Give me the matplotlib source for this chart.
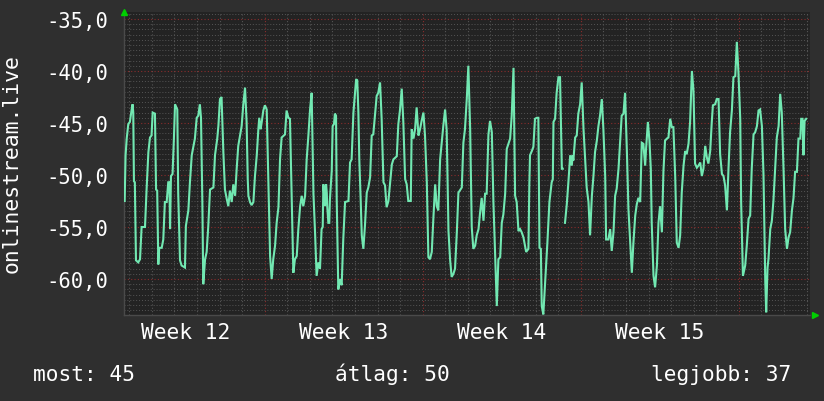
import numpy as np
import matplotlib
matplotlib.use("Agg")
import matplotlib.pyplot as plt

# ---- data (time in days from Monday of week 12, value) ----
tA = [0.80,0.84,0.89,0.96,1.03,1.11,1.15,1.18,1.21,1.25,1.30,1.40,1.48,1.55,1.70,1.77,1.85,1.92,1.99,2.04,
      2.14,2.19,2.24,2.29,2.33,2.44,2.51,2.58,2.66,2.73,2.78,2.81,2.85,2.92,2.98,3.03,3.13,3.17,3.25,3.32,
      3.47,3.51,3.62,3.69,3.77,3.84,3.91,3.99,4.06,4.13,4.18,4.24,4.28,4.36,4.43,4.50,4.58,4.73,4.80,4.90,
      4.95,5.02,5.09,5.17,5.24,5.32,5.39,5.46,5.54,5.61,5.69,5.76,5.83,5.98,6.05,6.13,6.20,6.25,6.28,6.35,
      6.42,6.50,6.57,6.65,6.72,6.76,6.82,6.87,6.94]
vA = [-52.5,-48.1,-46.5,-45.1,-44.9,-43.7,-43.2,-44.0,-50.6,-50.7,-58.2,-58.4,-58.1,-55.0,-55.0,-51.4,-47.8,-46.4,-46.2,-44.0,
      -44.1,-51.4,-51.5,-58.6,-57.0,-57.0,-56.2,-52.6,-52.6,-50.7,-50.7,-55.2,-50.1,-49.9,-46.5,-43.2,-43.7,-51.7,-58.2,-58.7,
      -58.9,-54.9,-53.4,-50.7,-48.1,-47.3,-46.5,-44.5,-44.3,-43.2,-44.5,-52.6,-60.5,-58.1,-57.4,-55.0,-51.4,-51.2,-48.1,-46.5,
      -45.3,-42.7,-42.5,-47.8,-51.4,-52.3,-53.0,-51.5,-52.6,-50.9,-52.0,-49.4,-47.2,-45.3,-43.3,-41.6,-44.9,-50.4,-52.0,-52.6,
      -52.9,-52.6,-50.1,-48.1,-45.6,-44.5,-45.6,-44.9,-43.8]

tB = [7.01,7.09,7.16,7.24,7.31,7.38,7.46,7.53,7.61,7.68,7.75,7.90,7.97,8.05,8.12,8.20,8.27,8.34,8.42,8.49,
      8.57,8.64,8.71,8.79,8.86,8.93,9.01,9.08,9.16,9.23,9.30,9.38,9.45,9.52,9.57,9.60,9.67,9.72,9.75,9.77,
      9.82,9.86,9.89,9.97,10.01,10.07,10.11,10.16,10.19,10.26,10.34,10.41,10.48,10.56,10.71,10.78,10.85,10.93,11.00,11.05,
      11.10,11.15,11.19,11.25,11.30,11.37,11.44,11.52,11.59,11.67,11.74,11.81,11.96,12.03,12.11,12.18,12.26,12.33,12.40,12.48,
      12.55,12.63,12.70,12.85,12.92,12.99,13.07,13.14,13.22,13.29,13.36,13.47,13.51,13.59,13.66,13.73,13.81,13.88,13.95]
vB = [-43.3,-43.7,-50.1,-57.8,-60.0,-58.1,-56.8,-54.6,-53.1,-48.5,-46.4,-46.1,-43.8,-44.5,-44.6,-52.3,-59.4,-58.1,-57.8,-55.2,
      -53.0,-52.0,-53.0,-52.0,-48.5,-46.4,-43.7,-42.1,-51.8,-55.5,-59.7,-58.4,-59.0,-55.2,-55.0,-50.9,-53.0,-50.9,-51.7,-53.0,
      -54.6,-54.6,-52.3,-49.6,-45.3,-45.1,-44.1,-44.3,-52.3,-61.0,-60.0,-60.6,-56.2,-52.6,-52.5,-48.8,-48.5,-44.0,-42.1,-40.8,
      -40.9,-44.0,-48.5,-52.3,-55.8,-57.1,-54.9,-51.7,-51.2,-50.2,-46.2,-46.1,-42.4,-42.1,-41.1,-44.6,-50.7,-51.0,-53.1,-52.5,
      -50.9,-49.0,-48.5,-48.2,-45.1,-43.8,-41.7,-44.9,-50.4,-50.9,-52.5,-52.5,-45.6,-46.5,-45.6,-43.5,-46.2,-45.6,-44.8]

tC = [14.03,14.10,14.18,14.25,14.32,14.40,14.47,14.55,14.62,14.69,14.77,14.84,14.91,14.99,15.06,15.14,15.21,15.28,15.36,15.43,
      15.51,15.58,15.73,15.80,15.87,15.95,16.02,16.10,16.17,16.24,16.32,16.39,16.47,16.54,16.61,16.69,16.76,16.83,16.91,16.98,
      17.06,17.13,17.20,17.28,17.35,17.43,17.50,17.57,17.65,17.72,17.87,17.94,18.02,18.09,18.16,18.24,18.31,18.38,18.46,18.53,
      18.58,18.68,18.72,18.75,18.83,18.90,18.97,19.05,19.12,19.17,19.23,19.27,19.34,19.42,19.46,19.52,19.61,19.71,19.76,19.79,
      19.86,19.93,20.01,20.08,20.16,20.20]
vC = [-44.0,-46.2,-50.7,-57.9,-58.1,-57.4,-54.2,-50.9,-53.0,-53.4,-48.5,-46.9,-45.3,-43.7,-45.7,-55.4,-58.1,-59.8,-59.5,-59.0,
      -55.5,-51.7,-51.2,-46.9,-45.6,-42.7,-39.5,-45.6,-55.0,-57.1,-56.8,-55.8,-55.2,-53.6,-52.2,-54.4,-51.8,-51.8,-46.1,-44.8,
      -45.9,-52.6,-57.4,-62.6,-58.1,-57.9,-54.6,-53.8,-51.8,-47.5,-46.5,-44.3,-39.7,-52.0,-52.6,-55.4,-55.2,-55.5,-56.0,-56.8,
      -57.4,-57.1,-51.0,-48.1,-47.7,-47.3,-44.6,-44.5,-44.5,-57.0,-57.1,-62.6,-63.4,-60.3,-58.9,-56.5,-52.6,-50.7,-50.4,-44.9,
      -44.6,-42.1,-40.6,-40.6,-49.4,-49.4]

tD = [20.30,20.38,20.45,20.53,20.60,20.64,20.67,20.75,20.82,20.89,20.97,21.04,21.12,21.19,21.26,21.34,21.41,21.49,21.56,21.63,
      21.71,21.78,21.85,21.93,22.00,22.08,22.12,22.22,22.30,22.37,22.45,22.52,22.59,22.67,22.74,22.81,22.89,22.96,23.04,23.11,
      23.18,23.26,23.33,23.41,23.48,23.55,23.63,23.70,23.77,23.85,23.89,23.97,24.04,24.10,24.14,24.22,24.29,24.37,24.44,24.51,
      24.59,24.66,24.73,24.81,24.88,24.96,25.03,25.10,25.18,25.25,25.33,25.40,25.47,25.55,25.62,25.69,25.77,25.84,25.92,25.99,
      26.06,26.14,26.21,26.29,26.36,26.43,26.51,26.58,26.65,26.73,26.80,26.85,26.95,27.02,27.10,27.17,27.25,27.32,27.39,27.47,
      27.54,27.61,27.69,27.76,27.84,27.91,27.98,28.06,28.10,28.18,28.28,28.35,28.43,28.50,28.57,28.65,28.72,28.80,28.87,28.94,
      29.02,29.09,29.17,29.21,29.27,29.31,29.39,29.46,29.53,29.61,29.68,29.76,29.83,29.90,29.98,30.05,30.13,30.20,30.27,30.35,
      30.42,30.49,30.57,30.64,30.72,30.76,30.82,30.86,30.91,30.98]
vD = [-54.6,-52.8,-50.7,-48.1,-49.1,-48.1,-48.6,-46.4,-46.2,-44.1,-43.2,-41.1,-45.6,-48.5,-51.2,-52.6,-55.8,-52.0,-50.1,-47.8,
      -46.7,-45.3,-44.3,-42.7,-45.6,-50.1,-56.2,-56.2,-55.2,-57.3,-55.4,-52.0,-51.3,-49.4,-46.9,-44.3,-44.1,-42.1,-47.7,-53.3,
      -56.2,-59.4,-56.5,-53.9,-52.8,-52.2,-52.6,-46.9,-47.0,-49.1,-47.5,-44.9,-46.7,-49.4,-54.6,-59.7,-60.8,-58.7,-54.6,-53.0,
      -55.5,-49.6,-46.7,-46.5,-46.4,-44.6,-45.4,-45.4,-50.1,-56.5,-57.0,-55.8,-51.7,-49.1,-47.7,-48.0,-47.0,-44.9,-40.0,-41.9,
      -48.9,-49.3,-49.1,-48.8,-50.1,-49.4,-47.2,-48.3,-48.9,-47.7,-44.9,-43.3,-43.2,-42.7,-42.7,-48.0,-49.9,-50.1,-51.0,-53.4,
      -49.4,-45.9,-43.8,-40.6,-40.5,-37.2,-40.1,-44.6,-52.6,-59.7,-58.7,-56.8,-54.2,-53.9,-49.4,-46.1,-45.9,-45.3,-43.8,-43.7,
      -45.3,-49.9,-60.3,-63.2,-58.9,-58.1,-55.2,-54.4,-52.5,-49.3,-46.4,-45.3,-42.2,-44.0,-49.6,-55.2,-57.1,-56.0,-55.5,-53.4,
      -52.2,-49.7,-49.7,-46.5,-46.5,-44.6,-44.6,-48.1,-44.8,-44.6]

y_major = [-60, -55, -50, -45, -40, -35]
y_labels = ["-60,0", "-55,0", "-50,0", "-45,0", "-40,0", "-35,0"]
week_pos = [3.5, 10.5, 17.5, 24.5]
week_labels = ["Week 12", "Week 13", "Week 14", "Week 15"]
week_bounds = [7, 14, 21, 28]
series_label = "onlinestream.live"
legend_texts = ["most: 45", "átlag: 50", "legjobb: 37"]

# ---- style ----
FIG_BG = "#2f2f2f"
AX_BG = "#232323"
LINE = "#72e8b2"
MINOR = "#555555"
MAJOR = "#8a2c2c"
FONT = "DejaVu Sans Mono"

plt.rcParams["font.family"] = [FONT, "DejaVu Sans"]

fig = plt.figure(figsize=(8.24, 4.02), dpi=100, facecolor=FIG_BG)
ax = fig.add_axes([124/824, 1-316/402, (810-124)/824, (316-13)/402])
ax.set_facecolor(AX_BG)

xlim = (0.77, 31.15)
ylim = (-63.46, -34.33)

# grid
for d in range(1, 32):
    if d in week_bounds:
        continue
    ax.axvline(d, color=MINOR, lw=0.8, ls=(0, (1, 2)), zorder=1)
for d in week_bounds:
    ax.axvline(d, color=MAJOR, lw=0.8, ls=(0, (1, 2)), zorder=1)
for y in np.arange(-63.0, -34.0, 0.5):
    if abs(y - round(y / 5) * 5) < 1e-6:
        continue
    ax.axhline(y, color=MINOR, lw=0.7, ls=(0, (1, 2)), zorder=1)
for y in y_major:
    ax.axhline(y, color=MAJOR, lw=0.8, ls=(0, (1, 2)), zorder=1)

# series
t = np.array(tA + tB + tC + [20.25] + tD)
v = np.array(vA + vB + vC + [np.nan] + vD)
ax.plot(t, v, color=LINE, lw=1.5, zorder=3, solid_joinstyle="miter")

ax.set_xlim(*xlim)
ax.set_ylim(*ylim)

ax.set_yticks(y_major)
ax.set_yticklabels(y_labels)
ax.set_xticks(week_pos)
ax.set_xticklabels(week_labels)
ax.tick_params(axis="y", length=0, pad=11.5, labelsize=14.8, colors="white")
ax.tick_params(axis="x", length=0, pad=5, labelsize=15.3, colors="white")

for s in ["top", "right"]:
    ax.spines[s].set_visible(False)
for s in ["left", "bottom"]:
    ax.spines[s].set_color("#4a4a4a")
    ax.spines[s].set_linewidth(1.0)

# arrows
ax.plot([0], [1.0], transform=ax.transAxes, marker="^", color="#00d000",
        markersize=5, clip_on=False, zorder=5)
ax.plot([1.007], [0.0], transform=ax.transAxes, marker=">", color="#00d000",
        markersize=5, clip_on=False, zorder=5)

# vertical label
fig.text(12/824, 1-164/402, series_label, rotation=90, color="white",
         fontsize=15.4, ha="center", va="center", family=FONT)

# legend line
fig.text(33/824, 1-381/402, legend_texts[0], color="white", fontsize=15.2,
         ha="left", va="baseline", family=FONT)
fig.text(392/824, 1-381/402, legend_texts[1], color="white", fontsize=15.2,
         ha="center", va="baseline", family=FONT)
fig.text(791/824, 1-381/402, legend_texts[2], color="white", fontsize=15.2,
         ha="right", va="baseline", family=FONT)

fig.savefig("out.png", dpi=100, facecolor=FIG_BG)
